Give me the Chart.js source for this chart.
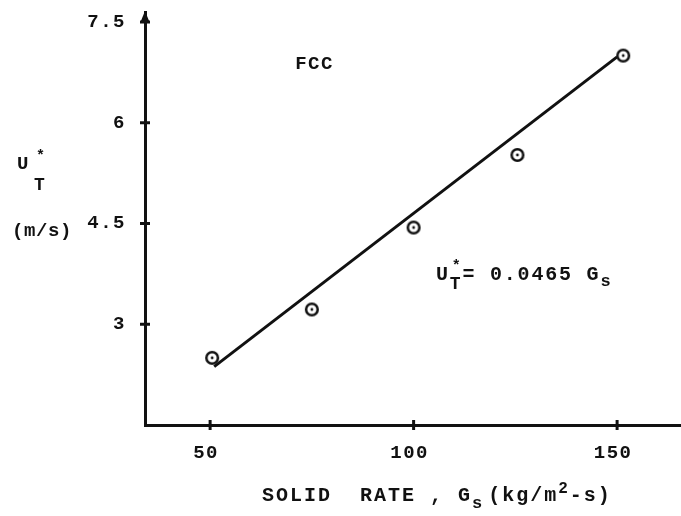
<!DOCTYPE html>
<html>
<head>
<meta charset="utf-8">
<title>FCC solid rate</title>
<script src="https://cdn.jsdelivr.net/npm/chart.js@4.4.0/dist/chart.umd.min.js"></script>
<style>
    html, body { margin: 0; padding: 0; background: #fff; }
    #wrap { width: 681px; height: 516px; }
</style>
</head>
<body>
<div id="wrap"><canvas id="rateChart" width="681" height="516"></canvas></div>
<script>
        // Measured points: solid rate G_s vs U_T*
        const solidRate = [50.5, 75, 100, 125.5, 151.5];
        const velocity = [2.5, 3.22, 4.44, 5.52, 7.0];

        // Correlation line U_T* = 0.0465 G_s, drawn between its two end points
        const fitRate = [51, 150];
        const fitVelocity = [2.37, 6.98];

        const xTicks = [50, 100, 150];
        const yTicks = [3, 4.5, 6, 7.5];

        const ink = '#111';
        const typeFace = '"Liberation Mono", "Courier New", monospace';

        // Circle with a centre dot, used as the point marker
        function makeMarker() {
            const c = document.createElement('canvas');
            c.width = 18;
            c.height = 18;
            const g = c.getContext('2d');
            g.fillStyle = '#fff';
            g.strokeStyle = ink;
            g.lineWidth = 2.5;
            g.beginPath();
            g.arc(9, 9, 5.8, 0, Math.PI * 2);
            g.fill();
            g.stroke();
            g.fillStyle = ink;
            g.beginPath();
            g.arc(9, 9, 1.4, 0, Math.PI * 2);
            g.fill();
            return c;
        }

        // Writes a run of text pieces; each piece may be raised/lowered or stacked
        function writeRun(ctx, x, y, pieces, spacing) {
            ctx.save();
            ctx.textBaseline = 'alphabetic';
            ctx.textAlign = 'left';
            ctx.letterSpacing = (spacing || 0) + 'px';
            pieces.forEach(p => {
                if (p.stack) {
                    ctx.font = 'bold 15px ' + typeFace;
                    const wTop = ctx.measureText(p.stack[0]).width;
                    ctx.fillText(p.stack[0], x + 2, y - 10);
                    ctx.font = 'bold 18px ' + typeFace;
                    const wBot = ctx.measureText(p.stack[1]).width;
                    ctx.fillText(p.stack[1], x, y + 9);
                    x += Math.max(wTop, wBot);
                    return;
                }
                ctx.font = 'bold ' + (p.size || 20) + 'px ' + typeFace;
                ctx.fillText(p.t, x, y + (p.dy || 0));
                x += ctx.measureText(p.t).width + (p.gap || 0);
            });
            ctx.restore();
        }

        const annotations = {
            id: 'annotations',
            beforeDraw(chart) {
                // typewriter spacing for the tick labels
                chart.ctx.letterSpacing = '1.5px';
            },
            afterDraw(chart) {
                const ctx = chart.ctx;
                const area = chart.chartArea;
                const xs = chart.scales.x;
                const ys = chart.scales.y;
                ctx.save();
                ctx.fillStyle = ink;
                ctx.strokeStyle = ink;

                // arrow head on top of the y axis
                ctx.beginPath();
                ctx.moveTo(area.left, area.top - 1);
                ctx.lineTo(area.left - 4.5, area.top + 10);
                ctx.lineTo(area.left + 4.5, area.top + 10);
                ctx.closePath();
                ctx.fill();

                // tick marks crossing both axes
                ctx.lineWidth = 3;
                xTicks.forEach(v => {
                    const px = xs.getPixelForValue(v);
                    ctx.beginPath();
                    ctx.moveTo(px, area.bottom - 5);
                    ctx.lineTo(px, area.bottom + 5);
                    ctx.stroke();
                });
                yTicks.forEach(v => {
                    const py = ys.getPixelForValue(v);
                    ctx.beginPath();
                    ctx.moveTo(area.left - 5, py);
                    ctx.lineTo(area.left + 5, py);
                    ctx.stroke();
                });

                // y axis title
                writeRun(ctx, 17, 169, [{ t: 'U', size: 19 }]);
                writeRun(ctx, 36, 160, [{ t: '*', size: 15 }]);
                writeRun(ctx, 34, 190, [{ t: 'T', size: 18 }]);
                writeRun(ctx, 12, 236, [{ t: '(m/s)', size: 19 }], 0.6);

                // panel label
                writeRun(ctx, xs.getPixelForValue(70.9), ys.getPixelForValue(6.8), [{ t: 'FCC', size: 19 }], 1.5);

                // correlation
                writeRun(ctx, xs.getPixelForValue(105.5), ys.getPixelForValue(3.66), [
                    { t: 'U' },
                    { stack: ['*', 'T'] },
                    { t: '= 0.0465 G' },
                    { t: 's', size: 17, dy: 6 }
                ], 1.8);

                // x axis title
                writeRun(ctx, 262, 501, [
                    { t: 'SOLID  RATE , G' },
                    { t: 's', size: 17, dy: 7, gap: 4 },
                    { t: '(kg/m' },
                    { t: '2', size: 16, dy: -8 },
                    { t: '-s)' }
                ], 2);

                ctx.restore();
            }
        };

        const rateCtx = document.getElementById('rateChart').getContext('2d');
        const rateChart = new Chart(rateCtx, {
            type: 'scatter',
            data: {
                datasets: [{
                    label: 'Correlation',
                    data: fitRate.map((x, i) => ({ x: x, y: fitVelocity[i] })),
                    showLine: true,
                    borderColor: ink,
                    borderWidth: 3,
                    pointRadius: 0,
                    order: 2
                }, {
                    label: 'FCC',
                    data: solidRate.map((x, i) => ({ x: x, y: velocity[i] })),
                    pointStyle: makeMarker(),
                    pointRadius: 7,
                    order: 1
                }]
            },
            options: {
                responsive: false,
                animation: false,
                layout: {
                    autoPadding: false,
                    padding: { top: 12, right: 0, left: 0, bottom: 0 }
                },
                plugins: {
                    legend: { display: false },
                    tooltip: { enabled: false }
                },
                scales: {
                    x: {
                        type: 'linear',
                        min: 34,
                        max: 165.7,
                        afterBuildTicks: function(scale) {
                            scale.ticks = xTicks.map(v => ({ value: v }));
                        },
                        afterFit: function(scale) {
                            scale.height = 91;
                            scale.paddingLeft = 0;
                            scale.paddingRight = 0;
                        },
                        grid: { display: false, drawTicks: false },
                        border: { color: ink, width: 3 },
                        ticks: {
                            padding: 17,
                            labelOffset: -4,
                            color: ink,
                            font: { family: typeFace, size: 19, weight: 'bold' }
                        }
                    },
                    y: {
                        min: 1.5,
                        max: 7.649,
                        afterBuildTicks: function(scale) {
                            scale.ticks = yTicks.map(v => ({ value: v }));
                        },
                        afterFit: function(scale) {
                            scale.width = 145;
                            scale.paddingTop = 0;
                            scale.paddingBottom = 0;
                        },
                        grid: { display: false, drawTicks: false },
                        border: { color: ink, width: 3 },
                        ticks: {
                            padding: 19,
                            color: ink,
                            font: { family: typeFace, size: 19, weight: 'bold' },
                            callback: function(value) {
                                return String(value);
                            }
                        }
                    }
                }
            },
            plugins: [annotations]
        });
</script>
</body>
</html>
